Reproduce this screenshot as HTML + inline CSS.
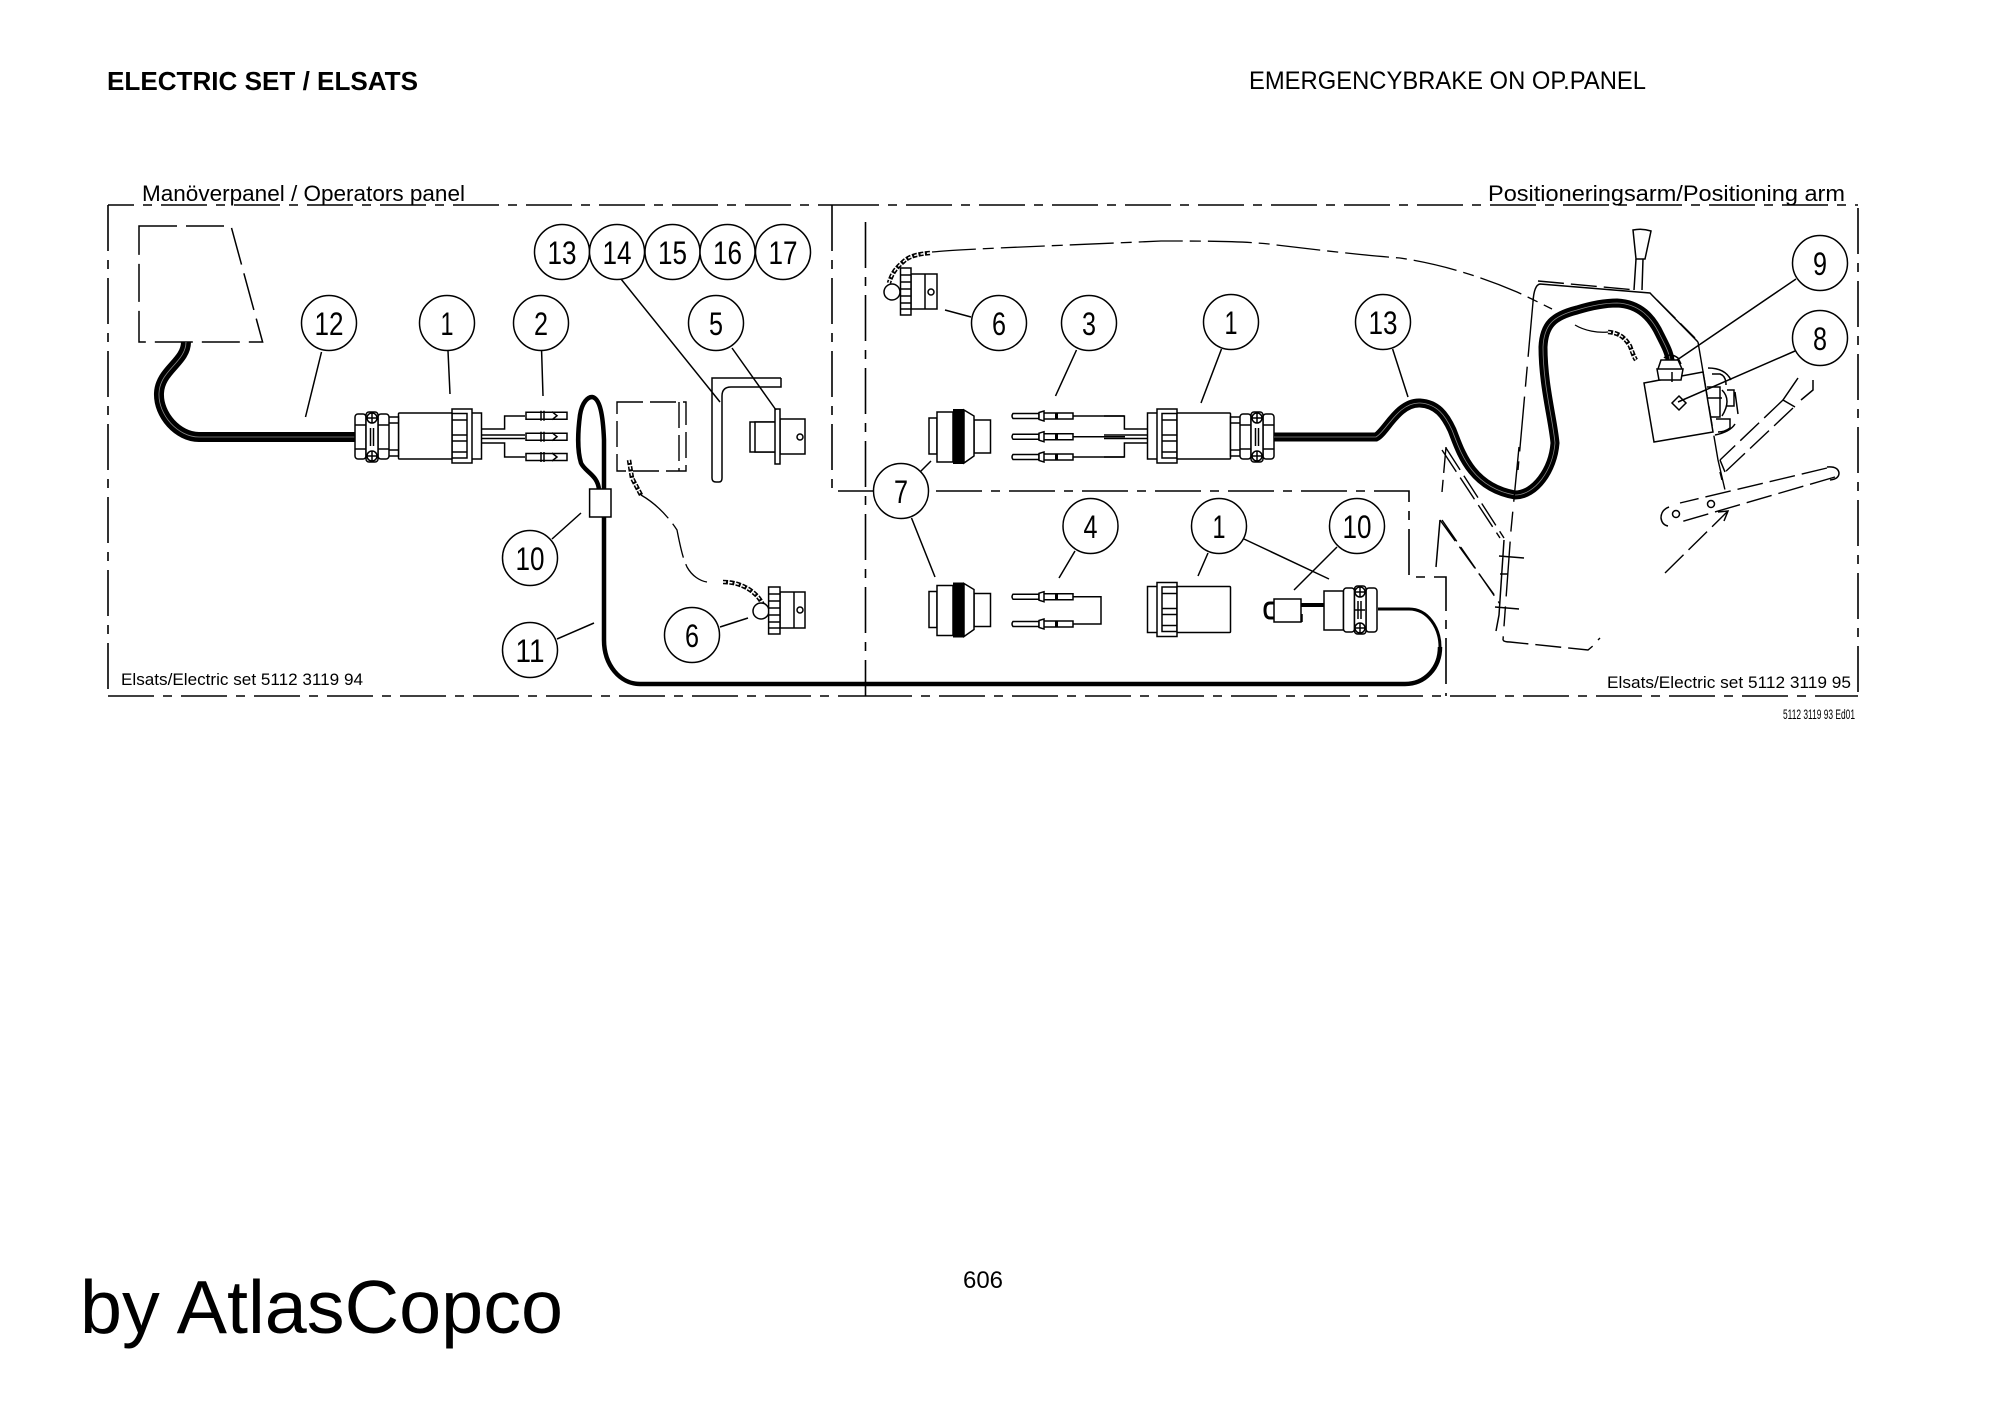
<!DOCTYPE html>
<html><head><meta charset="utf-8"><title>Electric set</title>
<style>html,body{margin:0;padding:0;background:#fff}svg{display:block}
text{font-family:"Liberation Sans",sans-serif;fill:#000}
.l{fill:none;stroke:#000;stroke-width:1.5}
.w{fill:#fff;stroke:#000;stroke-width:1.5}
.dd{fill:none;stroke:#000;stroke-width:1.6;stroke-dasharray:46 9 9 9}
.d{fill:none;stroke:#000;stroke-width:1.5;stroke-dasharray:38 9}
.ds{fill:none;stroke:#000;stroke-width:1.4;stroke-dasharray:26 7}
.dl{fill:none;stroke:#000;stroke-width:1.4;stroke-dasharray:55 10 20 10}
.ch{fill:none;stroke:#000;stroke-width:4.5;stroke-dasharray:5 1.5}
.chi{fill:none;stroke:#fff;stroke-width:1.4;stroke-dasharray:3 3.5}
.n{font-size:32px;text-anchor:middle}
</style></head><body>
<svg xmlns="http://www.w3.org/2000/svg" width="2000" height="1413" viewBox="0 0 2000 1413">
<defs>
<g id="head">
 <rect class="w" x="452" y="413" width="29.5" height="46"/>
 <path class="w" d="M452 409H472V463H452Z"/>
 <path class="l" d="M452 413.5H467V420H452M452 435H467V441H452M452 452H467V458H452M467 420V435M467 441V452"/>
 <rect class="w" x="398.5" y="413" width="53.5" height="46" rx="1"/>
</g>
<g id="conn">
 <use href="#head"/>
 <rect class="w" x="388" y="417" width="10.5" height="39"/>
 <path class="l" d="M388 423H398.5M388 450H398.5"/>
 <rect class="w" x="355" y="414" width="11" height="45" rx="3"/>
 <rect class="w" x="378" y="414" width="11" height="45" rx="3"/>
 <rect class="w" x="366" y="412" width="12" height="50" rx="3"/>
 <path class="l" d="M355 425H366M355 449H366M378 425H389M378 449H389M370.5 428V446M373.5 428V446"/>
 <circle class="w" cx="372" cy="418" r="5"/><circle class="w" cx="372" cy="456" r="5"/>
 <path class="l" d="M367 418H377M372 413V423M367 456H377M372 451V461"/>
 <path class="l" d="M481.5 429H504.6V416H525M481.5 435H525M481.5 438.5H525M481.5 443H504.6V457H525"/>
</g>
<g id="rec">
 <rect class="w" x="929" y="418" width="8" height="36"/>
 <rect class="w" x="974" y="420" width="16.5" height="33"/>
 <path class="w" d="M937 412H953V462H937ZM964 410L974 416V456L964 463Z"/>
 <rect x="953" y="409" width="11" height="55" fill="#000"/>
</g>
<g id="mpin">
 <path class="w" d="M1013 -2.5H1039V2.5H1013Q1011 0 1013 -2.5Z"/>
 <path class="w" d="M1039 -3.5L1044 -5V5L1039 3.5ZM1044 -3H1073V3H1044Z"/>
 <rect x="1055" y="-3.5" width="3" height="7" fill="#000"/>
</g>
<g id="fpin">
 <path class="w" d="M526 -3.5H567V3.5H526Z"/>
 <path class="l" d="M541 -5V5M544 -5V5M552 -4L557 0L552 4"/>
</g>
</defs>

<rect width="2000" height="1413" fill="#fff"/>

<!-- page headings -->
<text x="107" y="90" font-size="26" font-weight="bold" textLength="311" lengthAdjust="spacingAndGlyphs">ELECTRIC SET / ELSATS</text>
<text x="1249" y="89" font-size="25" textLength="397" lengthAdjust="spacingAndGlyphs">EMERGENCYBRAKE ON OP.PANEL</text>
<text x="963" y="1288" font-size="24" textLength="40" lengthAdjust="spacingAndGlyphs">606</text>
<text x="80" y="1333" font-size="75" textLength="483" lengthAdjust="spacingAndGlyphs">by AtlasCopco</text>

<!-- frame labels -->
<text x="142" y="201" font-size="22" textLength="323" lengthAdjust="spacingAndGlyphs">Manöverpanel / Operators panel</text>
<text x="1488" y="201" font-size="22" textLength="357" lengthAdjust="spacingAndGlyphs">Positioneringsarm/Positioning arm</text>
<text x="121" y="685" font-size="17" textLength="242" lengthAdjust="spacingAndGlyphs">Elsats/Electric set 5112 3119 94</text>
<text x="1607" y="688" font-size="17" textLength="244" lengthAdjust="spacingAndGlyphs">Elsats/Electric set 5112 3119 95</text>
<text x="1783" y="719" font-size="14" textLength="72" lengthAdjust="spacingAndGlyphs">5112 3119 93 Ed01</text>

<!-- frames -->
<path class="dd" style="stroke-dashoffset:20" d="M108 205H833"/>
<path class="dd" d="M833 205H1858"/>
<path class="dd" d="M108 205V696"/>
<path class="dd" d="M108 696H866"/>
<path class="dd" d="M866 696H1858"/>
<path class="dd" d="M1858 208V696"/>
<path class="dd" d="M832 205V491H875"/>
<path class="dd" d="M865.5 222V696"/>
<path class="dd" d="M936 491H1409V577H1446V696"/>

<!-- trapezoid -->
<path class="d" d="M139 226H231L262.6 342H139Z"/>

<!-- cable 12 -->
<path fill="none" stroke="#000" stroke-width="10" d="M186 342C186 362 160 370 159 393C158 415 178 437 199 437H355"/>
<path fill="none" stroke="#888" stroke-width=".8" d="M186 342C186 362 160 370 159 393C158 415 178 437 199 437H355"/>

<!-- left connector -->
<use href="#conn"/>
<use href="#fpin" y="415.7"/><use href="#fpin" y="436.7"/><use href="#fpin" y="457"/>

<!-- loop + cable 11 -->
<path fill="none" stroke="#000" stroke-width="4.5" d="M599 490C598 475 585 472 581 463C577 450 578 430 580 415C582 402 588 397 592 397C600 398 603 415 604 440L604 640C604 665 620 684 640 684H1405C1425 684 1440 668 1440 647"/>
<path fill="none" stroke="#000" stroke-width="3" d="M1440 647C1440 628 1428 609 1409 609H1378"/>
<rect class="w" x="589.6" y="489" width="21.4" height="28"/>

<!-- dashed box -->
<path class="ds" d="M617 402H686V471H617Z"/><path class="ds" d="M679 402V471"/>

<!-- bracket -->
<path class="l" d="M781 378H712V478Q712 482 716 482H719Q722 482 722 478V396Q722 387 731 387H781V378"/>

<!-- plug 5 -->
<rect class="w" x="750" y="422" width="26" height="30"/>
<rect class="w" x="755" y="422" width="21" height="30"/>
<rect class="w" x="780" y="419" width="25" height="35"/>
<rect class="w" x="775" y="409" width="5" height="55"/>
<circle class="w" cx="800" cy="437" r="3"/>

<!-- left chain / cap -->
<path class="ch" d="M629 460L632 478L641 495"/><path class="chi" d="M629 460L632 478L641 495"/>
<path fill="none" stroke="#000" stroke-width="1.3" stroke-dasharray="36 7" d="M641 495C655 503 668 516 677 530C680 545 682 556 687 567C692 576 700 581 707 582"/>
<path class="ch" d="M723 582C738 582 750 588 758 597C762 602 764 606 764 610"/><path class="chi" d="M723 582C738 582 750 588 758 597C762 602 764 606 764 610"/>
<circle class="w" cx="761" cy="611" r="8"/>
<rect class="w" x="780" y="592" width="25" height="36"/><path class="l" d="M794 592V628"/>
<rect class="w" x="768.6" y="587" width="11.4" height="47"/>
<path class="l" d="M768.6 594H780M768.6 601H780M768.6 608H780M768.6 615H780M768.6 622H780M768.6 628H780"/>
<circle class="w" cx="800" cy="610" r="3"/>

<!-- right top cap -->
<path class="ch" d="M930 253C918 254 909 256 903 262C896 268 892 273 889 283"/><path class="chi" d="M930 253C918 254 909 256 903 262C896 268 892 273 889 283"/>
<path fill="none" stroke="#000" stroke-width="1.3" stroke-dasharray="44 7 11 7" d="M932 252C960 249 1050 246 1161 241C1200 241 1240 241 1269 244C1300 248 1360 255 1400 258C1440 264 1480 276 1517 292C1530 298 1542 304 1552 309"/>
<circle class="w" cx="892" cy="292" r="8"/>
<rect class="w" x="911" y="274" width="26" height="35"/><path class="l" d="M925 274V309"/>
<rect class="w" x="900.5" y="268" width="10.5" height="47"/>
<path class="l" d="M900.5 275H911M900.5 282H911M900.5 289H911M900.5 296H911M900.5 303H911M900.5 309H911"/>
<circle class="w" cx="931" cy="292" r="3"/>

<!-- receptacles 7 -->
<use href="#rec"/><use href="#rec" y="173.5"/>

<!-- pins 3 -->
<path class="l" d="M1073 416H1124M1073 436.7H1125M1073 457H1124"/>
<use href="#mpin" y="416"/><use href="#mpin" y="436.7"/><use href="#mpin" y="457"/>

<!-- right connector -->
<g transform="translate(1629,0) scale(-1,1)"><use href="#conn"/></g>

<!-- pins 4 -->
<use href="#mpin" y="596.7"/><use href="#mpin" y="624"/>
<path class="l" d="M1073 596.7H1101V624H1073"/>

<!-- lower connector 1 -->
<g transform="translate(1629,173.5) scale(-1,1)"><use href="#head"/></g>

<!-- switch 10 -->
<path fill="none" stroke="#000" stroke-width="3" d="M1274 603H1270Q1265 603 1265 610Q1265 618 1270 618H1274"/>
<rect class="w" x="1274" y="599" width="27" height="23"/>
<path fill="none" stroke="#000" stroke-width="4" d="M1301 605H1324"/>
<path class="l" d="M1302 622V614"/>
<rect class="w" x="1324" y="591" width="19.5" height="39"/>
<rect class="w" x="1343.5" y="588" width="11" height="44" rx="3"/>
<rect class="w" x="1366" y="588" width="11" height="44" rx="3"/>
<rect class="w" x="1354.5" y="586" width="11.5" height="48" rx="3"/>
<circle class="w" cx="1360" cy="592" r="5"/><circle class="w" cx="1360" cy="628" r="5"/>
<path class="l" d="M1355 592H1365M1360 587V597M1355 628H1365M1360 623V633M1358 601V619M1361 601V619M1355 610H1365"/>

<!-- cable 13 -->
<path fill="none" stroke="#000" stroke-width="9" d="M1274 437H1376C1386 432 1398 402 1420 403C1437 404 1445 415 1452 430C1460 450 1470 487 1515 495C1535 495 1553 470 1555 443C1553 420 1543 385 1543 347C1544 325 1553 316 1577 310C1590 306 1605 303 1617 303C1640 304 1652 318 1660 335C1665 345 1669 352 1670 360"/>
<path fill="none" stroke="#888" stroke-width=".8" d="M1274 437H1376C1386 432 1398 402 1420 403C1437 404 1445 415 1452 430C1460 450 1470 487 1515 495C1535 495 1553 470 1555 443C1553 420 1543 385 1543 347C1544 325 1553 316 1577 310C1590 306 1605 303 1617 303C1640 304 1652 318 1660 335C1665 345 1669 352 1670 360"/>

<!-- machine outline -->
<path class="dl" d="M1533 302L1518 470"/>
<path class="dl" d="M1519 447L1511 530L1503 640"/>
<path class="l" d="M1533 302Q1534 285 1540 284L1650 293L1698 342"/>
<path class="ds" stroke-dasharray="22 4" d="M1538 281L1636 290"/>
<path class="ds" d="M1657 300L1695 338"/>
<path class="dl" d="M1698 342L1718 460L1725 490"/>
<path class="ds" d="M1503 640Q1504 642 1510 642L1588 650L1594 645M1598 640L1600 638"/>
<path class="ds" d="M1446 447L1442 492"/>
<path class="ds" d="M1446 448L1504 538M1442 450L1500 538"/>
<path class="ds" d="M1440 520L1498 600M1442 520L1500 604"/>
<path class="l" d="M1440 520L1436 567"/>
<path class="l" d="M1504 540L1499 615L1496 631M1499 556L1524 558M1495 607L1519 609M1500 574H1508"/>

<!-- lever -->
<path class="w" d="M1633 230Q1642 228 1651 231L1645 259H1636Z"/>
<path class="l" d="M1636 259L1634 290M1643 259L1642 290"/>

<!-- switch box and details -->
<path class="w" d="M1644 383L1703 372L1713 432L1654 442Z"/>
<path class="w" d="M1679 396L1686 403L1679 410L1672 403Z"/>
<path class="w" d="M1657 369H1683L1681 380H1659ZM1661 360H1678L1682 369H1658Z"/>
<path class="l" d="M1664 358Q1670 352 1678 358L1681 364M1672 372V382"/>
<path class="l" d="M1708 368Q1725 368 1731 380M1712 374H1720Q1726 376 1726 385M1707 387H1720V417H1710M1707 398H1722M1722 390Q1732 400 1722 416M1727 390H1734V406H1727M1735 392L1738 414M1716 419H1730V428Q1725 432 1718 432M1735 424Q1730 432 1715 435"/>
<path class="l" d="M1798 378L1783 400L1795 407M1813 380L1813 390L1801 400"/>
<path class="ds" d="M1783 400L1720 460M1793 408L1724 473"/>
<path class="l" d="M1720 460L1725 472M1720 472L1722 480"/>

<!-- bar -->
<path class="ds" d="M1827 468L1680 503"/>
<path class="ds" d="M1835 477L1677 523"/>
<path class="l" d="M1827 467Q1838 466 1839 473Q1839 479 1830 480M1669 507Q1661 510 1661 518Q1662 525 1668 526"/>
<circle class="w" cx="1676" cy="514" r="3.5"/><circle class="w" cx="1711" cy="504" r="3.5"/>
<path class="ds" d="M1665 573L1728 511"/>
<path class="l" d="M1718 512L1728 511L1724 521"/>

<!-- inner chain right -->
<path fill="none" stroke="#000" stroke-width="1.3" d="M1575 325C1585 331 1598 333 1608 332"/>
<path class="ch" d="M1608 332C1620 333 1625 338 1630 346C1633 354 1634 357 1636 360"/><path class="chi" d="M1608 332C1620 333 1625 338 1630 346C1633 354 1634 357 1636 360"/>

<!-- leaders -->
<g class="l">
<path d="M321.5 352L305.5 417M448 351L450 394M541.6 351L543 396M621 279L720 402M732 348L776 410M552 539L581 513M557 639L594 623M720 627L748 618"/>
<path d="M971 317L945 310M1076.5 350L1055.5 396M1221.5 349L1201 403M1392.6 349L1408 397M920 472L931 461M911.5 518L935 577M1075 551L1059 578M1208 553L1198 576M1244 539L1329 579M1337 547L1294 590M1796 279L1677 360M1795 351L1678 402"/>
</g>

<!-- balloons -->
<g class="w">
<circle cx="562" cy="252" r="27.5"/><circle cx="617" cy="252" r="27.5"/><circle cx="672.5" cy="252" r="27.5"/><circle cx="727.5" cy="252" r="27.5"/><circle cx="783" cy="252" r="27.5"/>
<circle cx="329" cy="323" r="27.5"/><circle cx="447" cy="323" r="27.5"/><circle cx="541" cy="323" r="27.5"/><circle cx="716" cy="323" r="27.5"/>
<circle cx="530" cy="558" r="27.5"/><circle cx="530" cy="650" r="27.5"/><circle cx="692" cy="635" r="27.5"/>
<circle cx="901" cy="491" r="27.5"/>
<circle cx="999" cy="323" r="27.5"/><circle cx="1089" cy="323" r="27.5"/><circle cx="1231" cy="322" r="27.5"/><circle cx="1383" cy="322" r="27.5"/>
<circle cx="1090.5" cy="526" r="27.5"/><circle cx="1219" cy="526" r="27.5"/><circle cx="1357" cy="526" r="27.5"/>
<circle cx="1820" cy="263" r="27.5"/><circle cx="1820" cy="338" r="27.5"/>
</g>
<g>
<text x="562" y="264" class="n" textLength="29" lengthAdjust="spacingAndGlyphs">13</text>
<text x="617" y="264" class="n" textLength="29" lengthAdjust="spacingAndGlyphs">14</text>
<text x="672.5" y="264" class="n" textLength="29" lengthAdjust="spacingAndGlyphs">15</text>
<text x="727.5" y="264" class="n" textLength="29" lengthAdjust="spacingAndGlyphs">16</text>
<text x="783" y="264" class="n" textLength="29" lengthAdjust="spacingAndGlyphs">17</text>
<text x="329" y="335" class="n" textLength="29" lengthAdjust="spacingAndGlyphs">12</text>
<text x="447" y="335" class="n" textLength="13" lengthAdjust="spacingAndGlyphs">1</text>
<text x="541" y="335" class="n" textLength="14" lengthAdjust="spacingAndGlyphs">2</text>
<text x="716" y="335" class="n" textLength="14" lengthAdjust="spacingAndGlyphs">5</text>
<text x="530" y="570" class="n" textLength="29" lengthAdjust="spacingAndGlyphs">10</text>
<text x="530" y="662" class="n" textLength="29" lengthAdjust="spacingAndGlyphs">11</text>
<text x="692" y="647" class="n" textLength="14" lengthAdjust="spacingAndGlyphs">6</text>
<text x="901" y="503" class="n" textLength="14" lengthAdjust="spacingAndGlyphs">7</text>
<text x="999" y="335" class="n" textLength="14" lengthAdjust="spacingAndGlyphs">6</text>
<text x="1089" y="335" class="n" textLength="14" lengthAdjust="spacingAndGlyphs">3</text>
<text x="1231" y="334" class="n" textLength="13" lengthAdjust="spacingAndGlyphs">1</text>
<text x="1383" y="334" class="n" textLength="29" lengthAdjust="spacingAndGlyphs">13</text>
<text x="1090.5" y="538" class="n" textLength="14" lengthAdjust="spacingAndGlyphs">4</text>
<text x="1219" y="538" class="n" textLength="13" lengthAdjust="spacingAndGlyphs">1</text>
<text x="1357" y="538" class="n" textLength="29" lengthAdjust="spacingAndGlyphs">10</text>
<text x="1820" y="275" class="n" textLength="14" lengthAdjust="spacingAndGlyphs">9</text>
<text x="1820" y="350" class="n" textLength="14" lengthAdjust="spacingAndGlyphs">8</text>
</g>
</svg>
</body></html>
